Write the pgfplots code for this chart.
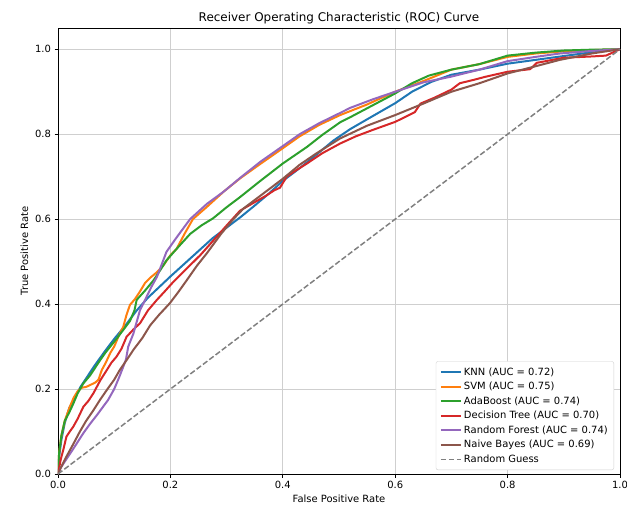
\documentclass[border=0pt]{standalone}
\usepackage{fontspec}
\setmainfont{DejaVu Sans}
\usepackage{pgfplots}
\pgfplotsset{compat=1.18}

\definecolor{tabblue}{HTML}{1F77B4}
\definecolor{taborange}{HTML}{FF7F0E}
\definecolor{tabgreen}{HTML}{2CA02C}
\definecolor{tabred}{HTML}{D62728}
\definecolor{tabpurple}{HTML}{9467BD}
\definecolor{tabbrown}{HTML}{8C564B}
\definecolor{gridgray}{HTML}{CFCFCF}

\begin{document}
\begin{tikzpicture}
\begin{axis}[
    scale only axis,
    width=562bp, height=446bp,
    xmin=0, xmax=1, ymin=0, ymax=1.05,
    xtick={0,0.2,...,1}, ytick={0,0.2,...,1},
    xtick pos=left, ytick pos=left,
    tick align=outside, major tick length=3.5bp,
    every tick/.style={black, line width=0.8pt},
    axis line style={line width=0.8pt},
    grid=major,
    major grid style={gridgray, line width=0.8pt},
    /pgf/number format/.cd, fixed, fixed zerofill, precision=1, assume math mode=true,
    /pgfplots/.cd,
    tick label style={font=\fontsize{10}{12}\selectfont},
    xlabel={False Positive Rate}, ylabel={True Positive Rate},
    label style={font=\fontsize{10}{12}\selectfont},
    title={Receiver Operating Characteristic (ROC) Curve},
    title style={font=\fontsize{12}{14}\selectfont, yshift=-5bp},
    legend style={at={(1,0)}, anchor=south east, xshift=-6bp, yshift=4bp,
        draw=gridgray, rounded corners=2bp, fill=white,
        font=\fontsize{10}{12}\selectfont, row sep=1.5bp, inner sep=4bp},
    legend cell align=left,
    legend image code/.code={\draw[#1] (0bp,0bp) -- (20bp,0bp);},
]
% KNN
\addplot[tabblue, line width=2bp] coordinates {
(0,0) (0.002,0.04) (0.006,0.08) (0.012,0.12) (0.02,0.155) (0.03,0.18) (0.04,0.205)
(0.05,0.225) (0.065,0.255) (0.084,0.29) (0.1,0.318) (0.12,0.35) (0.14,0.385)
(0.16,0.415) (0.18,0.44) (0.2,0.465) (0.225,0.495) (0.25,0.525) (0.275,0.555)
(0.3,0.58) (0.325,0.605) (0.35,0.632) (0.375,0.66) (0.4,0.69) (0.43,0.72)
(0.46,0.752) (0.49,0.785) (0.52,0.812) (0.55,0.835) (0.6,0.873) (0.63,0.9)
(0.664,0.923) (0.7,0.94) (0.75,0.952) (0.8,0.966) (0.85,0.975) (0.9,0.984)
(0.95,0.993) (1,1)
};
\addlegendentry{KNN (AUC = 0.72)}
% SVM
\addplot[taborange, line width=2bp] coordinates {
(0,0) (0.002,0.05) (0.006,0.09) (0.012,0.125) (0.02,0.155) (0.028,0.18) (0.035,0.195)
(0.042,0.203) (0.05,0.205) (0.058,0.21) (0.066,0.215) (0.072,0.222) (0.078,0.245)
(0.085,0.262) (0.093,0.285) (0.1,0.3) (0.108,0.325) (0.116,0.346) (0.122,0.375)
(0.128,0.398) (0.137,0.412) (0.146,0.43) (0.155,0.45) (0.164,0.462) (0.176,0.475)
(0.187,0.49) (0.2,0.515) (0.211,0.53) (0.225,0.565) (0.24,0.6) (0.265,0.629)
(0.295,0.665) (0.324,0.696) (0.36,0.73) (0.4,0.767) (0.43,0.795) (0.465,0.822)
(0.502,0.845) (0.55,0.87) (0.6,0.9) (0.65,0.925) (0.7,0.952) (0.75,0.965)
(0.8,0.982) (0.85,0.99) (0.9,0.995) (0.95,0.998) (1,1)
};
\addlegendentry{SVM (AUC = 0.75)}
% AdaBoost
\addplot[tabgreen, line width=2bp] coordinates {
(0,0) (0.002,0.05) (0.006,0.09) (0.012,0.125) (0.02,0.145) (0.027,0.165) (0.035,0.19)
(0.045,0.213) (0.057,0.232) (0.066,0.25) (0.075,0.268) (0.084,0.285) (0.093,0.3)
(0.104,0.318) (0.116,0.339) (0.128,0.36) (0.136,0.385) (0.14,0.41) (0.155,0.432)
(0.17,0.456) (0.182,0.48) (0.193,0.503) (0.211,0.53) (0.235,0.565) (0.255,0.585)
(0.276,0.602) (0.3,0.628) (0.324,0.652) (0.36,0.69) (0.4,0.731) (0.443,0.77)
(0.47,0.798) (0.502,0.828) (0.52,0.84) (0.56,0.868) (0.6,0.896) (0.63,0.92)
(0.66,0.938) (0.7,0.952) (0.75,0.965) (0.8,0.985) (0.85,0.992) (0.9,0.997)
(0.95,0.999) (1,1)
};
\addlegendentry{AdaBoost (AUC = 0.74)}
% Decision Tree
\addplot[tabred, line width=2bp] coordinates {
(0,0) (0.005,0.035) (0.01,0.06) (0.015,0.088) (0.021,0.1) (0.027,0.111) (0.035,0.13)
(0.045,0.158) (0.054,0.172) (0.063,0.19) (0.075,0.22) (0.087,0.245) (0.095,0.262)
(0.104,0.276) (0.113,0.295) (0.122,0.323) (0.134,0.34) (0.146,0.355) (0.16,0.385)
(0.176,0.41) (0.19,0.43) (0.205,0.452) (0.23,0.485) (0.253,0.515) (0.28,0.555)
(0.3,0.585) (0.324,0.62) (0.35,0.64) (0.37,0.655) (0.385,0.668) (0.395,0.674)
(0.407,0.7) (0.425,0.716) (0.443,0.731) (0.47,0.755) (0.502,0.778) (0.53,0.795)
(0.56,0.81) (0.6,0.829) (0.62,0.842) (0.635,0.852) (0.645,0.872) (0.67,0.886)
(0.7,0.905) (0.715,0.92) (0.74,0.928) (0.76,0.935) (0.8,0.947) (0.84,0.953)
(0.852,0.968) (0.88,0.975) (0.9,0.98) (0.95,0.983) (0.975,0.985) (1,1)
};
\addlegendentry{Decision Tree (AUC = 0.70)}
% Random Forest
\addplot[tabpurple, line width=2bp] coordinates {
(0,0) (0.005,0.015) (0.01,0.025) (0.02,0.045) (0.03,0.065) (0.045,0.096) (0.057,0.118)
(0.07,0.14) (0.08,0.158) (0.089,0.174) (0.1,0.2) (0.108,0.225) (0.116,0.252)
(0.121,0.27) (0.125,0.3) (0.134,0.33) (0.146,0.386) (0.155,0.41) (0.166,0.44)
(0.176,0.464) (0.185,0.495) (0.193,0.523) (0.21,0.555) (0.235,0.6) (0.265,0.636)
(0.295,0.665) (0.324,0.697) (0.36,0.735) (0.4,0.772) (0.43,0.8) (0.465,0.826)
(0.502,0.85) (0.52,0.862) (0.56,0.882) (0.6,0.9) (0.65,0.922) (0.698,0.935)
(0.75,0.952) (0.8,0.972) (0.85,0.982) (0.893,0.99) (0.95,0.996) (1,1)
};
\addlegendentry{Random Forest (AUC = 0.74)}
% Naive Bayes
\addplot[tabbrown, line width=2bp] coordinates {
(0,0) (0.005,0.015) (0.01,0.028) (0.015,0.041) (0.027,0.07) (0.039,0.1) (0.05,0.125)
(0.063,0.15) (0.075,0.175) (0.087,0.198) (0.1,0.222) (0.11,0.245) (0.122,0.268)
(0.134,0.292) (0.15,0.32) (0.164,0.35) (0.18,0.375) (0.199,0.402) (0.215,0.43)
(0.229,0.456) (0.247,0.49) (0.265,0.52) (0.29,0.565) (0.312,0.6) (0.33,0.625)
(0.36,0.655) (0.4,0.695) (0.43,0.728) (0.46,0.755) (0.502,0.79) (0.55,0.82)
(0.6,0.845) (0.65,0.872) (0.7,0.9) (0.75,0.92) (0.8,0.943) (0.85,0.96)
(0.893,0.975) (0.95,0.99) (1,1)
};
\addlegendentry{Naive Bayes (AUC = 0.69)}
% Random guess
\addplot[gray, line width=1.5bp, dash pattern=on 5.5bp off 2.4bp] coordinates {(0,0) (1,1)};
\addlegendentry{Random Guess}
\end{axis}
\pgfresetboundingbox
\useasboundingbox (-58bp,-32bp) rectangle (569bp,474bp);
\end{tikzpicture}
\end{document}
